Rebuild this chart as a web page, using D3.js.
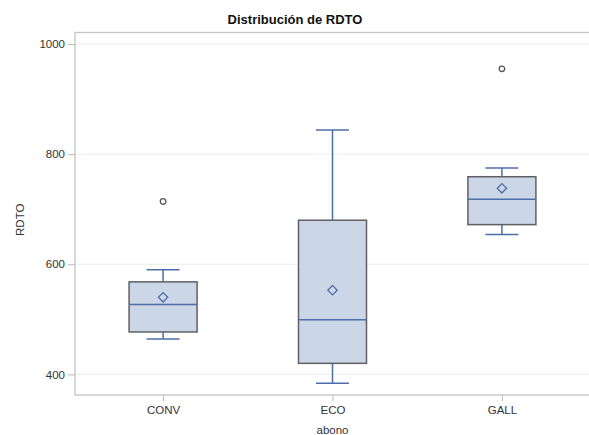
<!DOCTYPE html>
<html>
<head>
<meta charset="utf-8">
<script src="https://cdn.jsdelivr.net/npm/d3@7/dist/d3.min.js"></script>
<style>
  html, body { margin: 0; padding: 0; background: #fff; }
  svg { display: block; font-family: "Liberation Sans", Arial, sans-serif; }
</style>
</head>
<body>
<svg id="chart" width="589" height="435"></svg>
<script>
// Five-number summaries, means and outliers of RDTO by abono
const categories = ["CONV", "ECO", "GALL"];
const whiskerLow  = [464, 384, 654];
const q1Values    = [477, 420, 672];
const medians     = [527, 499, 718];
const q3Values    = [568, 680, 759];
const whiskerHigh = [590, 844, 775];
const means       = [540, 553, 738];
const outliers    = [[714], [], [955]];
const yTicks      = [400, 600, 800, 1000];

const rows = categories.map((c, i) => ({
  cat: c, lo: whiskerLow[i], q1: q1Values[i], med: medians[i],
  q3: q3Values[i], hi: whiskerHigh[i], mean: means[i], out: outliers[i]
}));

const svg = d3.select("#chart");
const plotLeft = 75, plotRight = 590, plotTop = 32.5, plotBottom = 395;

const x = d3.scalePoint().domain(categories).range([plotLeft, plotRight]).padding(0.52);
const y = d3.scaleLinear().domain([362.5, 1021]).range([plotBottom, plotTop]);
const boxW = 68, capW = 33;

// gridlines
svg.append("g").selectAll("line").data(yTicks).join("line")
  .attr("x1", plotLeft).attr("x2", plotRight)
  .attr("y1", d => y(d)).attr("y2", d => y(d))
  .attr("stroke", "#ececec").attr("stroke-width", 1);

// y axis
const yAxis = svg.append("g").attr("transform", `translate(${plotLeft},0)`)
  .call(d3.axisLeft(y).tickValues(yTicks).tickFormat(d3.format("d")).tickSize(7).tickPadding(3));
yAxis.select(".domain").remove();
yAxis.selectAll(".tick line").attr("stroke", "#b8b8b8");
yAxis.selectAll(".tick text").attr("fill", "#333").style("font-size", "11.5px");

// x axis
const xAxis = svg.append("g").attr("transform", `translate(0,${plotBottom})`)
  .call(d3.axisBottom(x).tickSize(6).tickPadding(5));
xAxis.select(".domain").remove();
xAxis.selectAll(".tick line").attr("stroke", "#b8b8b8");
xAxis.selectAll(".tick text").attr("fill", "#333").style("font-size", "11.5px");

// plot frame
svg.append("rect")
  .attr("x", plotLeft).attr("y", plotTop)
  .attr("width", plotRight - plotLeft).attr("height", plotBottom - plotTop)
  .attr("fill", "none").attr("stroke", "#c4c4c4").attr("stroke-width", 1.3);

const blue = "#4d6ea8";
const g = svg.append("g").selectAll("g").data(rows).join("g")
  .attr("transform", d => `translate(${x(d.cat)},0)`);

// whiskers
g.append("line").attr("x1", 0).attr("x2", 0)
  .attr("y1", d => y(d.hi)).attr("y2", d => y(d.q3))
  .attr("stroke", blue).attr("stroke-width", 1.5);
g.append("line").attr("x1", 0).attr("x2", 0)
  .attr("y1", d => y(d.q1)).attr("y2", d => y(d.lo))
  .attr("stroke", blue).attr("stroke-width", 1.5);
g.append("line").attr("x1", -capW / 2).attr("x2", capW / 2)
  .attr("y1", d => y(d.hi)).attr("y2", d => y(d.hi))
  .attr("stroke", blue).attr("stroke-width", 1.5);
g.append("line").attr("x1", -capW / 2).attr("x2", capW / 2)
  .attr("y1", d => y(d.lo)).attr("y2", d => y(d.lo))
  .attr("stroke", blue).attr("stroke-width", 1.5);

// boxes
g.append("rect")
  .attr("x", -boxW / 2).attr("width", boxW)
  .attr("y", d => y(d.q3)).attr("height", d => y(d.q1) - y(d.q3))
  .attr("fill", "#cbd6e7").attr("stroke", "#5f6066").attr("stroke-width", 1.5);

// medians
g.append("line").attr("x1", -boxW / 2).attr("x2", boxW / 2)
  .attr("y1", d => y(d.med)).attr("y2", d => y(d.med))
  .attr("stroke", blue).attr("stroke-width", 1.5);

// means
g.append("path")
  .attr("d", d3.symbol(d3.symbolSquare, 44))
  .attr("transform", d => `translate(0,${y(d.mean)}) rotate(45)`)
  .attr("fill", "none").attr("stroke", blue).attr("stroke-width", 1.3);

// outliers
g.selectAll("circle").data(d => d.out).join("circle")
  .attr("cx", 0).attr("cy", v => y(v)).attr("r", 2.8)
  .attr("fill", "none").attr("stroke", "#555").attr("stroke-width", 1.3);

// titles
svg.append("text").attr("x", 295).attr("y", 24).attr("text-anchor", "middle")
  .style("font-size", "13px").style("font-weight", "bold").attr("fill", "#111")
  .text("Distribución de RDTO");
svg.append("text").attr("transform", `translate(24,${(plotTop + plotBottom) / 2 + 6}) rotate(-90)`)
  .attr("text-anchor", "middle").style("font-size", "11.5px").attr("fill", "#333")
  .text("RDTO");
svg.append("text").attr("x", x("ECO")).attr("y", 434).attr("text-anchor", "middle")
  .style("font-size", "11.5px").attr("fill", "#333").text("abono");
</script>
</body>
</html>
